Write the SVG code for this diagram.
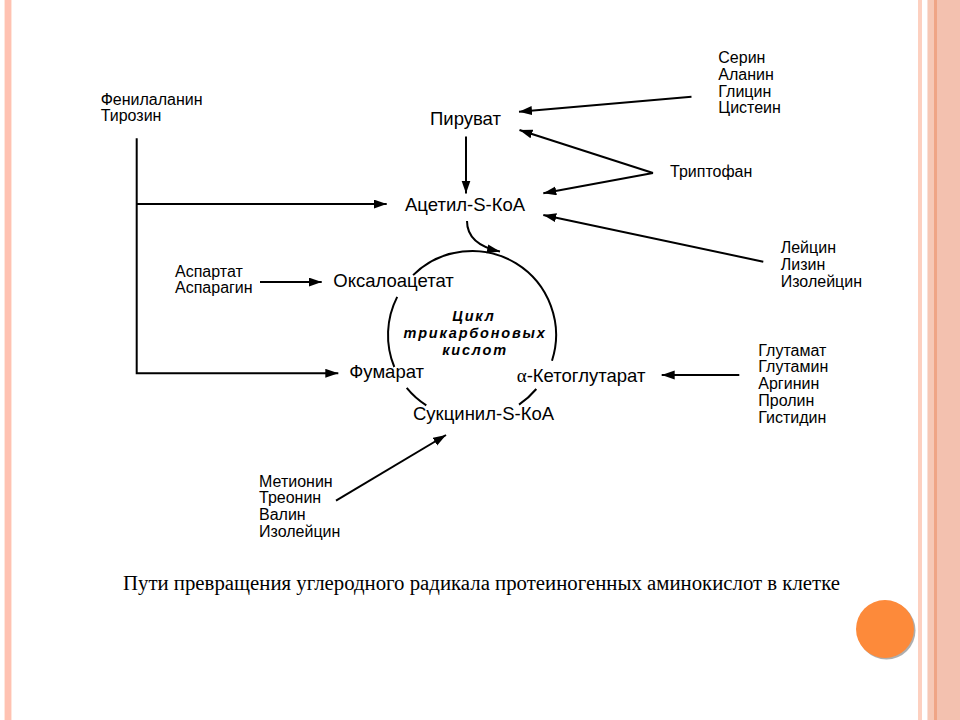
<svg xmlns="http://www.w3.org/2000/svg" width="960" height="720" viewBox="0 0 960 720">
<defs>
<marker id="ah" markerUnits="userSpaceOnUse" markerWidth="14" markerHeight="10" refX="13" refY="4.5" orient="auto">
<path d="M0,0 L13,4.5 L0,9 z" fill="#000"/>
</marker>
<style>
.n{font-family:"Liberation Sans",Arial,sans-serif;font-size:18.5px;fill:#000}
.a{font-family:"Liberation Sans",Arial,sans-serif;font-size:16px;fill:#000}
.c{font-family:"Liberation Sans",Arial,sans-serif;font-size:14.5px;letter-spacing:1.8px;font-weight:bold;font-style:italic;fill:#000;text-anchor:middle}
.l{fill:none;stroke:#000;stroke-width:2}
.ar{fill:none;stroke:#000;stroke-width:2;marker-end:url(#ah)}
</style>
</defs>
<rect width="960" height="720" fill="#fff"/>
<g id="border">
<rect x="4" y="0" width="8" height="720" fill="#FFE6DC"/>
<rect x="5" y="0" width="6" height="720" fill="#FFC2B2"/>
<rect x="918" y="0" width="4" height="720" fill="#FDD0C0"/>
<rect x="927.5" y="0" width="32.5" height="720" fill="#F3C1AF"/>
<rect x="928" y="0" width="6" height="720" fill="#F6C8B6"/>
<rect x="934" y="0" width="3" height="720" fill="#EFA586"/>
<circle cx="886.5" cy="630.5" r="29" fill="#9A9A9A" opacity="0.8"/>
<circle cx="885" cy="629" r="29" fill="#FD8A3A"/>
</g>
<g id="connectors">
<line class="ar" x1="691.5" y1="96.7" x2="519" y2="111.7"/>
<line class="ar" x1="653" y1="173" x2="519.5" y2="130"/>
<line class="ar" x1="653" y1="173" x2="543.3" y2="193.3"/>
<line class="ar" x1="466" y1="136.5" x2="466" y2="193.5"/>
<line class="ar" x1="763.3" y1="261.7" x2="543.3" y2="215"/>
<polyline class="l" points="136.7,138.3 136.7,373.3 338.3,373.3" style="marker-end:url(#ah)"/>
<line class="ar" x1="136.7" y1="204" x2="386.7" y2="204"/>
<line class="ar" x1="260" y1="282" x2="321.7" y2="282"/>
<line class="ar" x1="739.3" y1="375" x2="661.7" y2="375"/>
<line class="ar" x1="336" y1="500.7" x2="446" y2="435"/>
<path class="ar" d="M467,221 C467,238 479,247 500,251.5"/>
<path id="cycle-top" class="l" d="M413.1,275.1 A84,84 0 0 1 552,360.7"/>
<path id="cycle-left" class="l" d="M397.2,296.9 A84,84 0 0 0 394.3,367"/>
<path id="cycle-bl" class="l" d="M406.7,387.9 A84,84 0 0 0 426.3,405.4"/>
<path id="cycle-br" class="l" d="M536.3,389 A84,84 0 0 1 519,404.6"/>
</g>
<g id="piruvat"><text class="n" x="430" y="125">Пируват</text></g>
<g id="acetyl"><text class="n" x="405" y="210.5">Ацетил-S-КоА</text></g>
<g id="oxaloacetate"><text class="n" x="333.3" y="287.3">Оксалоацетат</text></g>
<g id="fumarate"><text class="n" x="349.3" y="378.3">Фумарат</text></g>
<g id="ketoglutarate"><text class="n" x="516.7" y="382.3"><tspan style="font-family:'Liberation Serif',serif;font-size:19px">α</tspan>-Кетоглутарат</text></g>
<g id="succinyl"><text class="n" x="413" y="420">Сукцинил-S-КоА</text></g>
<g id="cycle">
<text class="c" x="474" y="321">Цикл</text>
<text class="c" x="475" y="338">трикарбоновых</text>
<text class="c" x="475" y="355">кислот</text>
</g>
<g id="ser-group">
<text class="a" x="718.3" y="63.3">Серин</text>
<text class="a" x="718.3" y="80">Аланин</text>
<text class="a" x="718.3" y="96.7">Глицин</text>
<text class="a" x="718.3" y="113.4">Цистеин</text>
</g>
<g id="trp"><text class="a" x="670" y="176.5">Триптофан</text></g>
<g id="phe-group">
<text class="a" x="100.7" y="105">Фенилаланин</text>
<text class="a" x="100.7" y="120.7">Тирозин</text>
</g>
<g id="leu-group">
<text class="a" x="780.7" y="253.3">Лейцин</text>
<text class="a" x="780.7" y="270">Лизин</text>
<text class="a" x="780.7" y="286.7">Изолейцин</text>
</g>
<g id="asp-group">
<text class="a" x="175" y="276.7">Аспартат</text>
<text class="a" x="175" y="293.3">Аспарагин</text>
</g>
<g id="glu-group">
<text class="a" x="758.3" y="355.7">Глутамат</text>
<text class="a" x="758.3" y="372.4">Глутамин</text>
<text class="a" x="758.3" y="389.1">Аргинин</text>
<text class="a" x="758.3" y="405.8">Пролин</text>
<text class="a" x="758.3" y="422.5">Гистидин</text>
</g>
<g id="met-group">
<text class="a" x="259" y="486.7">Метионин</text>
<text class="a" x="259" y="503.4">Треонин</text>
<text class="a" x="259" y="520.1">Валин</text>
<text class="a" x="259" y="536.8">Изолейцин</text>
</g>
<g id="caption"><text x="123" y="590" style="font-family:'Liberation Serif','Times New Roman',serif;font-size:20.8px;fill:#000">Пути превращения углеродного радикала протеиногенных аминокислот в клетке</text></g>
</svg>
